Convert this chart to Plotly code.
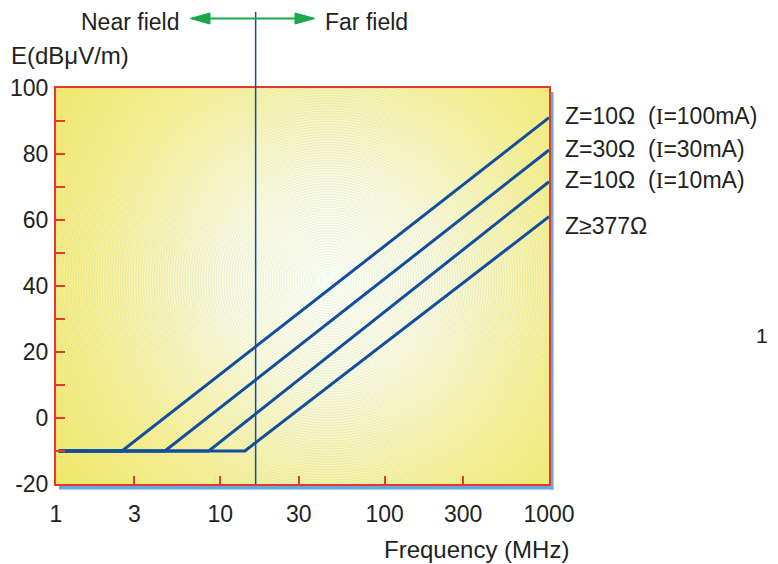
import base64
import math
import plotly.graph_objects as go

# ---------------- data ----------------
series_names = [
    'Z=10Ω\u00a0 (<span style="font-family:Liberation Serif">I</span>=100mA)',
    'Z=30Ω\u00a0 (<span style="font-family:Liberation Serif">I</span>=30mA)',
    'Z=10Ω\u00a0 (<span style="font-family:Liberation Serif">I</span>=10mA)',
    'Z≥377Ω',
]
floor_start_mhz = 1.04
floor_level = -10
break_mhz = [2.52, 4.6, 8.5, 14.1]
end_mhz = 1000
end_level = [91.0, 81.2, 71.6, 61.0]
boundary_mhz = 16.4  # near/far field boundary

x_tickvals = [1, 3, 10, 30, 100, 300, 1000]
x_ticktext = ["1", "3", "10", "30", "100", "300", "1000"]
y_tickvals = [-20, 0, 20, 40, 60, 80, 100]
y_ticktext = ["-20", "0", "20", "40", "60", "80", "100"]

# ---------------- style ----------------
FONT = "Liberation Sans, Arial, Helvetica, sans-serif"
TXT = "#231f20"
RED = "#e5392f"
LINE_BLUE = "#114e9e"
SHADOW = "#64aade"
GREEN = "#19a84c"

OFF = 8  # page body margin
# plot area in page pixels
L_PG, T_PG, PW, PH = 56, 88, 493, 396
W, H = 778 - OFF, 564 - OFF
PL, PT = L_PG - OFF, T_PG - OFF


def px(x):  # page pixel -> paper x
    return (x - L_PG) / PW


def py(y):  # page pixel -> paper y
    return (T_PG + PH - y) / PH


# background: radial gradient with fine concentric rings
cx, cy = 272, 192
circles = "".join(
    f'<circle cx="{cx}" cy="{cy}" r="{r * 2.6:.1f}"/>' for r in range(1, 140)
)
svg = (
    f'<svg xmlns="http://www.w3.org/2000/svg" width="{PW}" height="{PH}" '
    f'viewBox="0 0 {PW} {PH}" preserveAspectRatio="none">'
    f'<defs><radialGradient id="g" cx="{cx}" cy="{cy}" r="360" gradientUnits="userSpaceOnUse">'
    '<stop offset="0" stop-color="#fffff4"/>'
    '<stop offset="0.3" stop-color="#fdfad8"/>'
    '<stop offset="0.65" stop-color="#faf08c"/>'
    '<stop offset="0.95" stop-color="#f7e95e"/>'
    '</radialGradient></defs>'
    f'<rect width="{PW}" height="{PH}" fill="url(#g)"/>'
    '<g fill="none" stroke="#9ccde6" stroke-width="0.5" stroke-opacity="0.5">'
    + circles
    + "</g></svg>"
)
bg_src = "data:image/svg+xml;base64," + base64.b64encode(svg.encode()).decode()

fig = go.Figure()

for i, name in enumerate(series_names):
    fig.add_trace(
        go.Scatter(
            x=[floor_start_mhz, break_mhz[i], end_mhz],
            y=[floor_level, floor_level, end_level[i]],
            mode="lines",
            name=name,
            line=dict(color=LINE_BLUE, width=3),
            showlegend=False,
            hoverinfo="skip",
        )
    )

bx = math.log10(boundary_mhz) / 3  # paper x of boundary on the log axis (range 0..3)

shapes = [
    # blue drop shadow (right and bottom strips)
    dict(type="rect", xref="paper", yref="paper", layer="below",
         x0=px(550), x1=px(553.5), y0=py(489.5), y1=py(92),
         fillcolor=SHADOW, line=dict(width=0)),
    dict(type="rect", xref="paper", yref="paper", layer="below",
         x0=px(59), x1=px(553.5), y0=py(489.5), y1=py(485),
         fillcolor=SHADOW, line=dict(width=0)),
    # near/far boundary vertical line
    dict(type="line", xref="paper", yref="paper", layer="above",
         x0=bx, x1=bx, y0=0, y1=py(12), line=dict(color=LINE_BLUE, width=1.5)),
    # green double arrow
    dict(type="line", xref="paper", yref="paper",
         x0=px(200), x1=px(305), y0=py(18.5), y1=py(18.5),
         line=dict(color=GREEN, width=2)),
    dict(type="path", xref="paper", yref="paper", fillcolor=GREEN,
         line=dict(color=GREEN, width=1),
         path=f"M {px(190)} {py(18.5)} L {px(210)} {py(13)} L {px(210)} {py(24)} Z"),
    dict(type="path", xref="paper", yref="paper", fillcolor=GREEN,
         line=dict(color=GREEN, width=1),
         path=f"M {px(315)} {py(18.5)} L {px(295)} {py(13)} L {px(295)} {py(24)} Z"),
]

label_shift = [2, 1.5, 2, -9]
annotations = []
for i, name in enumerate(series_names):
    annotations.append(dict(
        xref="paper", yref="y", x=px(563), y=end_level[i], yshift=label_shift[i],
        text=name, showarrow=False, xanchor="left", yanchor="middle",
        font=dict(size=23, color=TXT, family=FONT),
    ))

annotations += [
    dict(xref="paper", yref="paper", x=px(180), y=py(OFF), text="Near field",
         showarrow=False, xanchor="right", yanchor="top", borderpad=0,
         font=dict(size=23, color=TXT, family=FONT)),
    dict(xref="paper", yref="paper", x=px(324), y=py(OFF), text="Far field",
         showarrow=False, xanchor="left", yanchor="top", borderpad=0,
         font=dict(size=23, color=TXT, family=FONT)),
    dict(xref="paper", yref="paper", x=px(70), y=py(55), text="E(dBμV/m)",
         showarrow=False, xanchor="center", yanchor="middle",
         font=dict(size=24, color=TXT, family=FONT)),
    dict(xref="paper", yref="paper", x=px(476), y=py(549), text="Frequency (MHz)",
         showarrow=False, xanchor="center", yanchor="middle",
         font=dict(size=24, color=TXT, family=FONT)),
    dict(xref="paper", yref="paper", x=px(762), y=py(335), text="1",
         showarrow=False, xanchor="center", yanchor="middle",
         font=dict(size=21, color=TXT, family=FONT)),
]

fig.update_layout(
    width=W, height=H,
    margin=dict(l=PL, r=W - PL - PW, t=PT, b=H - PT - PH, pad=0, autoexpand=False),
    paper_bgcolor="white",
    plot_bgcolor="#fbf5b8",
    font=dict(family=FONT, size=23, color=TXT),
    shapes=shapes,
    annotations=annotations,
    images=[dict(source=bg_src, xref="paper", yref="paper", x=0, y=1,
                 sizex=1, sizey=1, xanchor="left", yanchor="top",
                 sizing="stretch", layer="below")],
    showlegend=False,
)

fig.update_xaxes(
    type="log", range=[0, 3], automargin=False,
    tickvals=x_tickvals, ticktext=x_ticktext,
    ticks="inside", ticklen=8, tickwidth=2, tickcolor=RED,
    showline=True, linecolor=RED, linewidth=2, mirror=True,
    showgrid=False, zeroline=False, ticklabelstandoff=8,
    tickfont=dict(size=23, color=TXT, family=FONT),
)
fig.update_yaxes(
    range=[-20, 100], automargin=False,
    tickvals=y_tickvals, ticktext=y_ticktext,
    ticks="inside", ticklen=9, tickwidth=2, tickcolor=RED,
    minor=dict(dtick=10, ticks="inside", ticklen=9, tickwidth=2, tickcolor=RED),
    showline=True, linecolor=RED, linewidth=2, mirror=True,
    showgrid=False, zeroline=False, ticklabelstandoff=1,
    tickfont=dict(size=23, color=TXT, family=FONT),
)

fig.write_html("out.html")
